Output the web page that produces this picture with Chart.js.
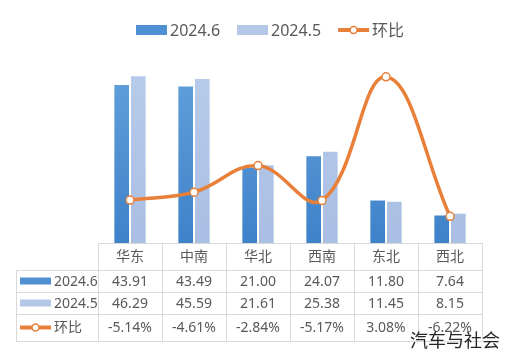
<!DOCTYPE html>
<html><head><meta charset="utf-8">
<script src="https://cdn.jsdelivr.net/npm/chart.js@4/dist/chart.umd.min.js"></script>
<style>html,body{margin:0;padding:0;background:#fff;}#wrap{position:relative;width:508px;height:357px;}</style>
</head><body><div id="wrap"><canvas id="c" width="508" height="357"></canvas></div>
<script>
const categories = ['华东','中南','华北','西南','东北','西北'];
const seriesNames = ['2024.6','2024.5','环比'];
const jun = [43.91, 43.49, 21.00, 24.07, 11.80, 7.64];
const may = [46.29, 45.59, 21.61, 25.38, 11.45, 8.15];
const mom = [-5.14, -4.61, -2.84, -5.17, 3.08, -6.22];
const watermark = '汽车与社会';

const FONT = "'Noto Sans','Noto Sans CJK SC',sans-serif";
const C_JUN = '#5b9bd5', C_MAY = '#b4c7e7', C_LINE = '#e8803a', TXT = '#595959', GRID = '#d9d9d9';

function grad(ctx, top, bot) {
  const ca = ctx.chart.chartArea;
  if (!ca) return top;
  const g = ctx.chart.ctx.createLinearGradient(0, ca.top, 0, ca.bottom);
  g.addColorStop(0, top); g.addColorStop(1, bot);
  return g;
}

function drawSwatch(ctx, kind, x, y, w, h) {
  if (kind === 0) { ctx.fillStyle = '#4f90d2'; ctx.fillRect(x, y - h/2, w, h); }
  else if (kind === 1) { ctx.fillStyle = C_MAY; ctx.fillRect(x, y - h/2, w, h); }
  else {
    ctx.strokeStyle = C_LINE; ctx.lineWidth = 4; ctx.lineCap = 'butt';
    ctx.beginPath(); ctx.moveTo(x, y); ctx.lineTo(x + w, y); ctx.stroke();
    ctx.beginPath(); ctx.arc(x + w/2, y, 3.5, 0, Math.PI*2);
    ctx.fillStyle = '#fff'; ctx.fill(); ctx.lineWidth = 1.5; ctx.stroke();
  }
}

const tablePlugin = {
  id: 'tablePlugin',
  afterDraw(chart) {
    const ctx = chart.ctx, xs = chart.scales.x;
    const step = xs.getPixelForValue(1) - xs.getPixelForValue(0);
    const left = xs.getPixelForValue(0) - step/2;
    const right = xs.getPixelForValue(categories.length - 1) + step/2;
    const top = chart.chartArea.bottom;
    const rows = [top, top + 27, top + 49, top + 71, top + 98];
    const labX = 16;
    ctx.save();
    ctx.strokeStyle = GRID; ctx.lineWidth = 1;
    // header row lines
    ctx.beginPath();
    ctx.moveTo(left, rows[0] + 0.5); ctx.lineTo(right, rows[0] + 0.5);
    for (let r = 1; r < rows.length; r++) { ctx.moveTo(labX, rows[r] + 0.5); ctx.lineTo(right, rows[r] + 0.5); }
    for (let i = 0; i <= categories.length; i++) {
      const x = Math.round(left + i*step) + 0.5;
      ctx.moveTo(x, rows[0]); ctx.lineTo(x, rows[4]);
    }
    ctx.moveTo(labX + 0.5, rows[1]); ctx.lineTo(labX + 0.5, rows[4]);
    ctx.stroke();

    ctx.fillStyle = TXT; ctx.textAlign = 'center'; ctx.textBaseline = 'middle';
    ctx.font = '14px ' + FONT;
    categories.forEach((c, i) => ctx.fillText(c, xs.getPixelForValue(i), (rows[0] + rows[1]) / 2 + 1));
    const data = [jun.map(v => v.toFixed(2)), may.map(v => v.toFixed(2)), mom.map(v => v.toFixed(2) + '%')];
    for (let r = 0; r < 3; r++) {
      const cy = (rows[r+1] + rows[r+2]) / 2 + 1;
      data[r].forEach((t, i) => ctx.fillText(t, xs.getPixelForValue(i), cy));
      drawSwatch(ctx, r, 20, cy - 1, 31, r === 2 ? 0 : 7);
      ctx.fillStyle = TXT; ctx.textAlign = 'left';
      ctx.fillText(seriesNames[r], 54, cy);
      ctx.textAlign = 'center';
    }
    // legend
    ctx.font = '16px ' + FONT; ctx.textAlign = 'left';
    let lx = 136; const ly = 30;
    for (let r = 0; r < 3; r++) {
      drawSwatch(ctx, r, lx, ly, 31, r === 2 ? 0 : 10);
      ctx.fillStyle = TXT;
      ctx.fillText(seriesNames[r], lx + 34, ly + 1);
      lx += 34 + ctx.measureText(seriesNames[r]).width + 17;
    }
    // watermark
    ctx.fillStyle = '#262626'; ctx.font = '18px ' + FONT; ctx.textAlign = 'right';
    ctx.fillText(watermark, 500, 342);
    ctx.restore();
  }
};

new Chart(document.getElementById('c'), {
  data: {
    labels: categories,
    datasets: [
      { type: 'line', label: seriesNames[2], data: mom, yAxisID: 'y2', order: 0,
        borderColor: C_LINE, borderWidth: 3.5, tension: 0.4, cubicInterpolationMode: 'default',
        pointRadius: 4, pointBackgroundColor: '#fff', pointBorderColor: C_LINE, pointBorderWidth: 1.5 },
      { type: 'bar', label: seriesNames[0], data: jun, yAxisID: 'y', order: 1,
        backgroundColor: ctx => grad(ctx, '#62a1dc', '#3f82c9'),
        categoryPercentage: 0.52, barPercentage: 0.88 },
      { type: 'bar', label: seriesNames[1], data: may, yAxisID: 'y', order: 1,
        backgroundColor: ctx => grad(ctx, '#b8cbea', '#a9bfe3'),
        categoryPercentage: 0.52, barPercentage: 0.88 }
    ]
  },
  options: {
    responsive: false, animation: false,
    layout: { padding: { left: 98, right: 26, top: 63, bottom: 114 } },
    plugins: { legend: { display: false }, tooltip: { enabled: false } },
    scales: {
      x: { display: false, offset: true },
      y: { display: false, min: 0, max: 50 },
      y2: { display: false, min: -8, max: 4, position: 'right' }
    }
  },
  plugins: [tablePlugin]
});
</script></body></html>
